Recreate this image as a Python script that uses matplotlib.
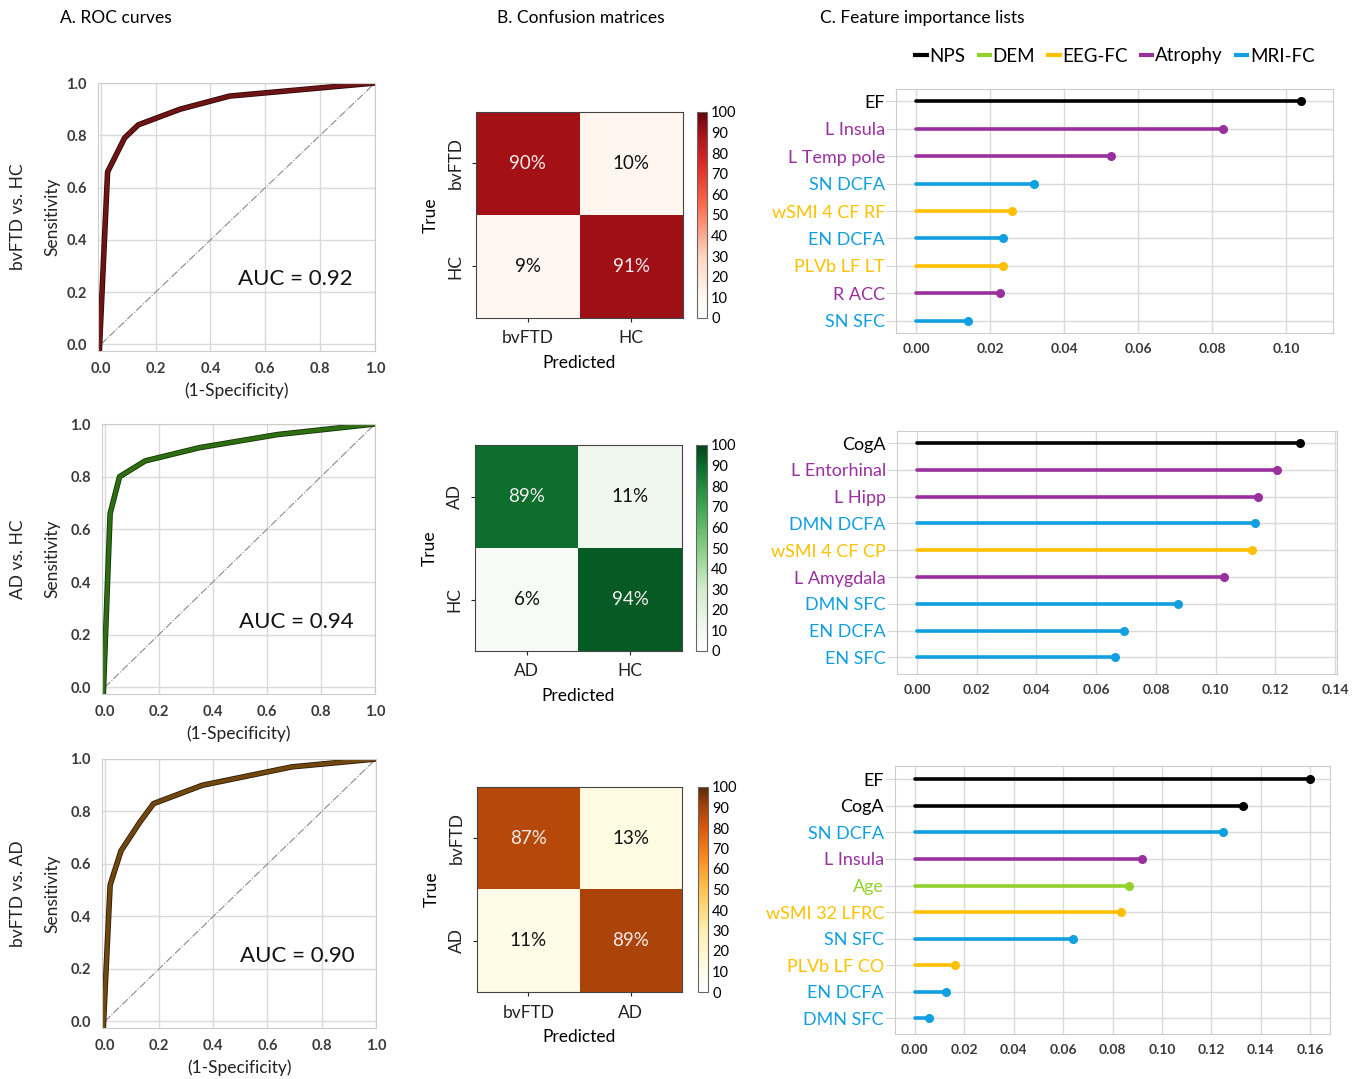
import matplotlib.pyplot as plt
import matplotlib.patheffects as pe
from matplotlib.lines import Line2D
from matplotlib.colors import LinearSegmentedColormap
import numpy as np

plt.rcParams['font.family'] = ['Lato', 'DejaVu Sans']

# ---- data ----
roc_names = ['bvFTD vs. HC', 'AD vs. HC', 'bvFTD vs. AD']
roc_auc = ['0.92', '0.94', '0.90']
roc1_fpr = [-0.005, 0.025, 0.087, 0.137, 0.29, 0.47, 1.0]
roc1_tpr = [-0.02, 0.66, 0.79, 0.84, 0.90, 0.95, 1.0]
roc2_fpr = [-0.005, 0.02, 0.055, 0.15, 0.35, 0.64, 1.0]
roc2_tpr = [-0.02, 0.66, 0.80, 0.86, 0.91, 0.96, 1.0]
roc3_fpr = [-0.005, 0.02, 0.06, 0.13, 0.18, 0.36, 0.69, 1.0]
roc3_tpr = [-0.02, 0.52, 0.65, 0.76, 0.83, 0.90, 0.97, 1.0]

cm1 = [[90, 10], [9, 91]]
cm2 = [[89, 11], [6, 94]]
cm3 = [[87, 13], [11, 89]]
cm1_labels = ['bvFTD', 'HC']
cm2_labels = ['AD', 'HC']
cm3_labels = ['bvFTD', 'AD']

groups = ['NPS', 'DEM', 'EEG-FC', 'Atrophy', 'MRI-FC']
group_colors = {'NPS': '#000000', 'DEM': '#92d12a', 'EEG-FC': '#ffc000',
                'Atrophy': '#9a2f9e', 'MRI-FC': '#109fe0'}

fi1_names = ['EF', 'L Insula', 'L Temp pole', 'SN DCFA', 'wSMI 4 CF RF',
             'EN DCFA', 'PLVb LF LT', 'R ACC', 'SN SFC']
fi1_values = [0.104, 0.083, 0.0526, 0.032, 0.026, 0.0236, 0.0236, 0.0227, 0.0141]
fi1_groups = ['NPS', 'Atrophy', 'Atrophy', 'MRI-FC', 'EEG-FC',
              'MRI-FC', 'EEG-FC', 'Atrophy', 'MRI-FC']

fi2_names = ['CogA', 'L Entorhinal', 'L Hipp', 'DMN DCFA', 'wSMI 4 CF CP',
             'L Amygdala', 'DMN SFC', 'EN DCFA', 'EN SFC']
fi2_values = [0.1283, 0.1204, 0.1142, 0.1132, 0.1123, 0.1029, 0.0874, 0.0694, 0.0662]
fi2_groups = ['NPS', 'Atrophy', 'Atrophy', 'MRI-FC', 'EEG-FC',
              'Atrophy', 'MRI-FC', 'MRI-FC', 'MRI-FC']

fi3_names = ['EF', 'CogA', 'SN DCFA', 'L Insula', 'Age', 'wSMI 32 LFRC',
             'SN SFC', 'PLVb LF CO', 'EN DCFA', 'DMN SFC']
fi3_values = [0.160, 0.1326, 0.1248, 0.092, 0.0868, 0.0835, 0.0642, 0.0161, 0.0126, 0.0056]
fi3_groups = ['NPS', 'NPS', 'MRI-FC', 'Atrophy', 'DEM', 'EEG-FC',
              'MRI-FC', 'EEG-FC', 'MRI-FC', 'MRI-FC']

# colour maps: white at the low end like the reference colorbars
reds = LinearSegmentedColormap.from_list('reds', [
    (0, '#ffffff'), (0.1, '#fff7ef'), (0.3, '#fdd5c0'), (0.55, '#fb6a4a'),
    (0.75, '#dc2a26'), (0.9, '#a51218'), (1, '#67000d')])
greens = LinearSegmentedColormap.from_list('greens', [
    (0, '#ffffff'), (0.1, '#f2f8f0'), (0.3, '#d2ecca'), (0.55, '#74c476'),
    (0.75, '#2f9a4a'), (0.9, '#0b6b2c'), (1, '#00441b')])
browns = LinearSegmentedColormap.from_list('browns', [
    (0, '#ffffff'), (0.1, '#fffcea'), (0.3, '#fff0b0'), (0.5, '#fec44f'),
    (0.65, '#fb8c1d'), (0.8, '#d9580c'), (0.9, '#a8420a'), (1, '#5e2a05')])

# ---- layout (pixels) ----
W, H = 1355, 1079
fig = plt.figure(figsize=(W / 100, H / 100), dpi=100)


def box(l, t, r, b):
    return [l / W, 1 - b / H, (r - l) / W, (b - t) / H]


def ftext(x, y, s, **kw):
    fig.text(x / W, 1 - y / H, s, **kw)


ftext(60, 18, 'A. ROC curves', fontsize=12.5, va='center')
ftext(497, 18, 'B. Confusion matrices', fontsize=12.5, va='center')
ftext(820, 18, 'C. Feature importance lists', fontsize=12.5, va='center')

# ROC curves
roc_boxes = [(98, 83, 375, 351), (102, 424, 375, 694), (102, 759, 376, 1028)]
roc_data = [(roc1_fpr, roc1_tpr), (roc2_fpr, roc2_tpr), (roc3_fpr, roc3_tpr)]
roc_colors = [('#6e1414', '#300606'), ('#2f6d12', '#103505'), ('#70470f', '#2c1a04')]

for i in range(3):
    l, t, r, b = roc_boxes[i]
    ax = fig.add_axes(box(l, t, r, b))
    fpr, tpr = roc_data[i]
    ax.plot([0, 1], [0, 1], color='#8a8a8a', lw=0.8, ls=(0, (7, 1.5, 1, 1.5)))
    c, edge = roc_colors[i]
    ax.plot(fpr, tpr, color=c, lw=2.8, solid_joinstyle='round',
            path_effects=[pe.Stroke(linewidth=4.0, foreground=edge), pe.Normal()])
    ax.set_xlim(-0.01, 1.0)
    ax.set_ylim(-0.025, 1.0)
    ticks = np.arange(0, 1.01, 0.2)
    ax.set_xticks(ticks)
    ax.set_yticks(ticks)
    ax.set_xticklabels(['%.1f' % v for v in ticks])
    ax.set_yticklabels(['%.1f' % v for v in ticks])
    ax.tick_params(length=0, labelsize=10.5, colors='#3a3a3a', pad=8)
    for lab in ax.get_xticklabels() + ax.get_yticklabels():
        lab.set_fontweight('bold')
    ax.grid(color='#dadada', lw=1)
    for s in ax.spines.values():
        s.set_color('#cccccc')
    ax.text(0.71, 0.25, 'AUC = ' + roc_auc[i], fontsize=16, ha='center',
            va='center', color='#111111')
    ftext(52, (t + b) / 2, 'Sensitivity', rotation=90, fontsize=12.5,
          ha='center', va='center', color='#222222')
    ftext(18, (t + b) / 2, roc_names[i], rotation=90, fontsize=12.5,
          ha='center', va='center', color='#222222')
    ftext((l + r) / 2, b + 40, '(1-Specificity)', fontsize=12.5,
          ha='center', va='center', color='#222222')

# Confusion matrices
cm_boxes = [(476, 112, 683, 318), (475, 445, 682, 651), (477, 787, 682, 992)]
cb_boxes = [(697, 112, 707, 318), (696, 445, 707, 651), (698, 787, 708, 992)]
cm_data = [cm1, cm2, cm3]
cm_labels = [cm1_labels, cm2_labels, cm3_labels]
cm_cmaps = [reds, greens, browns]

for i in range(3):
    ax = fig.add_axes(box(*cm_boxes[i]))
    m = np.array(cm_data[i])
    im = ax.imshow(m, cmap=cm_cmaps[i], vmin=0, vmax=100, aspect='auto')
    for r in range(2):
        for c in range(2):
            ax.text(c, r, '%d%%' % m[r, c], ha='center', va='center', fontsize=13.5,
                    color='#f2ecec' if m[r, c] > 50 else '#111111')
    ax.set_xticks([0, 1])
    ax.set_yticks([0, 1])
    ax.set_xticklabels(cm_labels[i], fontsize=12.5)
    ax.set_yticklabels(cm_labels[i], fontsize=12.5, rotation=90, va='center')
    ax.tick_params(length=3, colors='#222222', pad=6)
    ax.set_xlabel('Predicted', fontsize=12.5, labelpad=6)
    ax.set_ylabel('True', fontsize=12.5, labelpad=6)
    for s in ax.spines.values():
        s.set_color('#444444')
    cax = fig.add_axes(box(*cb_boxes[i]))
    cb = fig.colorbar(im, cax=cax, ticks=range(0, 101, 10))
    cb.ax.tick_params(length=0, labelsize=10.5, pad=3)
    cb.outline.set_edgecolor('#666666')

# Feature importance lists
fi_boxes = [(896, 89, 1333, 333), (897, 431, 1337, 674), (895, 766, 1330, 1034)]
fi_xlims = [(-0.0054, 0.1127), (-0.0067, 0.1406), (-0.008, 0.168)]
fi_ylims = [(8.45, -0.45), (8.62, -0.45), (9.59, -0.5)]
fi_xmax = [0.10, 0.14, 0.16]
fi_data = [(fi1_names, fi1_values, fi1_groups),
           (fi2_names, fi2_values, fi2_groups),
           (fi3_names, fi3_values, fi3_groups)]

for i in range(3):
    ax = fig.add_axes(box(*fi_boxes[i]))
    names, vals, grps = fi_data[i]
    for k in range(len(names)):
        col = group_colors[grps[k]]
        ax.plot([0, vals[k]], [k, k], color=col, lw=2.6, solid_capstyle='round')
        ax.plot(vals[k], k, 'o', color=col, ms=5.5)
    ax.set_xlim(*fi_xlims[i])
    ax.set_ylim(*fi_ylims[i])
    xt = np.arange(0, fi_xmax[i] + 0.001, 0.02)
    ax.set_xticks(xt)
    ax.set_xticklabels(['%.2f' % v for v in xt])
    ax.set_yticks(range(len(names)))
    ax.set_yticklabels(names, fontsize=13)
    for lab, g in zip(ax.get_yticklabels(), grps):
        lab.set_color(group_colors[g])
    ax.tick_params(axis='x', length=0, labelsize=10, colors='#3a3a3a', pad=7)
    ax.tick_params(axis='y', length=7, color='#d5d5d5', pad=1)
    for lab in ax.get_xticklabels():
        lab.set_fontweight('bold')
    ax.grid(color='#dadada', lw=1)
    ax.set_axisbelow(True)
    for s in ax.spines.values():
        s.set_color('#cccccc')

handles = [Line2D([0], [0], color=group_colors[g], lw=3) for g in groups]
fig.legend(handles, groups, loc='center right', bbox_to_anchor=(1322 / W, 1 - 56 / H),
           ncol=5, frameon=False, fontsize=13.5, handlelength=0.6,
           handletextpad=0.15, columnspacing=0.7, borderaxespad=0)

fig.savefig('out.png', dpi=100)
